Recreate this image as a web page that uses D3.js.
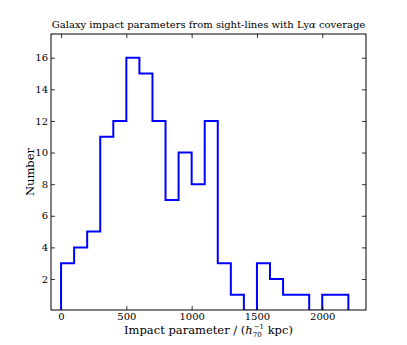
<!DOCTYPE html>
<html>
<head>
<meta charset="utf-8">
<script src="https://cdn.jsdelivr.net/npm/d3@7"></script>
<style>
  body { margin: 0; background: #fff; }
  text { font-family: "DejaVu Serif", serif; fill: #000; }
</style>
</head>
<body>
<svg width="407" height="345"></svg>
<script>
// histogram of impact parameters, 100 kpc bins
var binEdges = [0, 100, 200, 300, 400, 500, 600, 700, 800, 900, 1000, 1100,
                1200, 1300, 1400, 1500, 1600, 1700, 1800, 1900, 2000, 2100, 2200];
var counts = [3, 4, 5, 11, 12, 16, 15, 12, 7, 10, 8, 12,
              3, 1, 0, 3, 2, 1, 1, 0, 1, 1];
var xTicks = [0, 500, 1000, 1500, 2000];
var yTicks = [2, 4, 6, 8, 10, 12, 14, 16];

var svg = d3.select("svg"),
    margin = {top: 34, right: 41, bottom: 35, left: 51},
    width = 407 - margin.left - margin.right,
    height = 345 - margin.top - margin.bottom;

var x = d3.scaleLinear().domain([-77, 2335]).range([0, width]);
var y = d3.scaleLinear().domain([0.04, 17.5]).range([height, 0]);

var g = svg.append("g")
    .attr("transform", "translate(" + margin.left + "," + margin.top + ")");

svg.append("defs").append("clipPath").attr("id", "clip")
  .append("rect").attr("width", width).attr("height", height);

// step outline like histtype='step'
var pts = [[binEdges[0], 0]];
counts.forEach(function(c, i) {
  pts.push([binEdges[i], c]);
  pts.push([binEdges[i + 1], c]);
});
pts.push([binEdges[binEdges.length - 1], 0]);

var line = d3.line()
    .x(function(d) { return x(d[0]); })
    .y(function(d) { return y(d[1]); });

g.append("path")
    .datum(pts)
    .attr("clip-path", "url(#clip)")
    .attr("fill", "none")
    .attr("stroke", "#0000ff")
    .attr("stroke-width", 2)
    .attr("stroke-linejoin", "miter")
    .attr("d", line);

// axes, ticks pointing inward
function styleAxis(sel) {
  sel.select(".domain").remove();
  sel.selectAll(".tick line").attr("stroke", "#000").attr("stroke-width", 0.8);
  sel.selectAll(".tick text").style("font-size", "10px").style("font-family", "DejaVu Serif");
}

g.append("g")
    .attr("transform", "translate(0," + height + ")")
    .call(d3.axisBottom(x).tickValues(xTicks).tickSizeInner(-4).tickPadding(3).tickFormat(d3.format("d")))
    .call(styleAxis);
g.append("g")
    .call(d3.axisTop(x).tickValues(xTicks).tickSizeInner(-4).tickFormat(""))
    .call(styleAxis);
g.append("g")
    .call(d3.axisLeft(y).tickValues(yTicks).tickSizeInner(-4).tickPadding(3))
    .call(styleAxis);
g.append("g")
    .attr("transform", "translate(" + width + ",0)")
    .call(d3.axisRight(y).tickValues(yTicks).tickSizeInner(-4).tickFormat(""))
    .call(styleAxis);

g.append("rect")
    .attr("width", width).attr("height", height)
    .attr("fill", "none").attr("stroke", "#000").attr("stroke-width", 1);

// labels
svg.append("text")
    .attr("x", margin.left + width / 2).attr("y", 28)
    .attr("text-anchor", "middle")
    .style("font-size", "10px")
    .html("Galaxy impact parameters from sight-lines with Ly<tspan font-style='italic'>α</tspan> coverage");

var xl = svg.append("text")
    .attr("x", margin.left + width / 2).attr("y", 334)
    .attr("text-anchor", "middle")
    .style("font-size", "11.5px");
xl.append("tspan").text("Impact parameter / (");
xl.append("tspan").attr("font-style", "italic").text("h");
xl.append("tspan").attr("dy", 3).style("font-size", "7px").text("70");
xl.append("tspan").attr("dx", -8).attr("dy", -8).style("font-size", "7px").text("−1");
xl.append("tspan").attr("dy", 5).text("  kpc)");

svg.append("text")
    .attr("transform", "translate(34," + (margin.top + height / 2) + ") rotate(-90)")
    .attr("text-anchor", "middle")
    .style("font-size", "11.5px")
    .text("Number");
</script>
</body>
</html>
